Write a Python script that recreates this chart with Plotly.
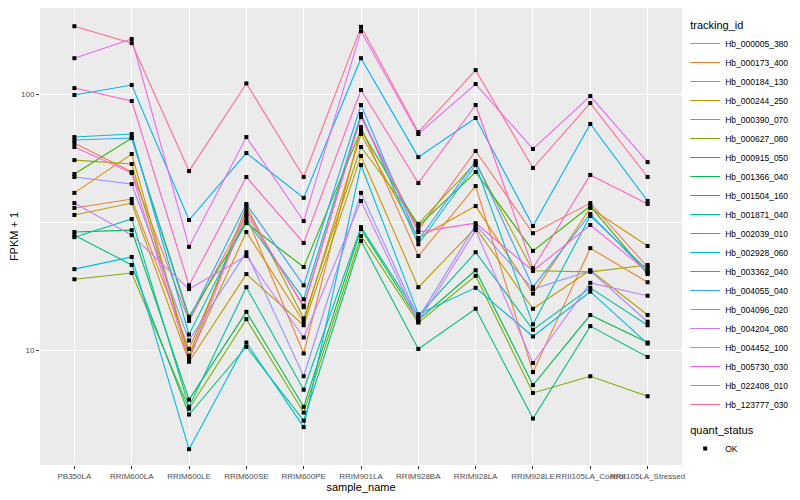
import plotly.graph_objects as go

samples = ["PB350LA", "RRIM600LA", "RRIM600LE", "RRIM600SE", "RRIM600PE", "RRIM901LA",
           "RRIM928BA", "RRIM928LA", "RRIM928LE", "RRII105LA_Control", "RRII105LA_Stressed"]

tracking_ids = ["Hb_000005_380", "Hb_000173_400", "Hb_000184_130", "Hb_000244_250", "Hb_000390_070",
                "Hb_000627_080", "Hb_000915_050", "Hb_001366_040", "Hb_001504_160", "Hb_001871_040",
                "Hb_002039_010", "Hb_002928_060", "Hb_003362_040", "Hb_004055_040", "Hb_004096_020",
                "Hb_004204_080", "Hb_004452_100", "Hb_005730_030", "Hb_022408_010", "Hb_123777_030"]

colors = ["#F8766D", "#EA8331", "#D89000", "#C09B00", "#A3A500", "#7CAE00", "#39B600", "#00BB4E",
          "#00BF7D", "#00C1A3", "#00BFC4", "#00BAE0", "#00B0F6", "#35A2FF", "#9590FF", "#C77CFF",
          "#E76BF3", "#FA62DB", "#FF62BC", "#FF6C91"]

Hb_000005_380 = [64.4, 49.6, 13.0, 34.0, 14.9, 82.0, 29.4, 59.9, 28.6, 37.5, 21.1]
Hb_000173_400 = [35.9, 38.9, 10.1, 33.4, 9.7, 74.3, 23.3, 43.7, 8.2, 25.0, 18.4]
Hb_000184_130 = [41.1, 58.3, 9.4, 28.9, 12.9, 69.8, 27.4, 36.5, 16.6, 35.9, 25.5]
Hb_000244_250 = [33.7, 37.5, 9.0, 19.8, 12.5, 57.3, 17.6, 30.0, 14.5, 20.5, 13.7]
Hb_000390_070 = [55.2, 53.3, 9.5, 36.5, 13.3, 62.1, 31.1, 53.8, 20.4, 20.2, 21.5]
Hb_000627_080 = [18.9, 20.0, 5.9, 13.2, 5.7, 27.9, 12.8, 19.5, 6.8, 7.9, 6.6]
Hb_000915_050 = [48.7, 67.3, 13.5, 31.3, 21.1, 72.3, 30.5, 49.6, 24.4, 36.5, 19.8]
Hb_001366_040 = [28.9, 29.4, 6.4, 14.1, 6.0, 29.7, 13.1, 20.5, 7.3, 13.7, 10.7]
Hb_001504_160 = [28.1, 21.5, 5.6, 10.3, 5.3, 26.7, 10.1, 14.5, 5.4, 12.4, 9.4]
Hb_001871_040 = [27.6, 32.5, 6.0, 17.6, 7.0, 30.2, 13.6, 24.1, 12.0, 17.5, 12.5]
Hb_002039_010 = [67.9, 69.8, 11.5, 32.2, 15.8, 83.5, 25.9, 52.8, 12.6, 33.4, 20.5]
Hb_002928_060 = [20.7, 23.1, 4.1, 10.7, 5.0, 52.8, 13.8, 17.5, 11.3, 16.9, 10.6]
Hb_003362_040 = [99.1, 108.4, 32.2, 58.8, 39.3, 138.0, 56.7, 80.6, 30.5, 76.4, 38.2]
Hb_004055_040 = [66.1, 67.3, 13.2, 37.2, 17.9, 90.6, 26.9, 54.7, 17.6, 34.0, 20.0]
Hb_004096_020 = [47.4, 44.5, 10.9, 24.1, 7.9, 41.1, 13.3, 30.8, 17.3, 20.4, 12.9]
Hb_004204_080 = [37.5, 28.1, 17.3, 23.3, 11.2, 38.2, 12.9, 29.4, 8.9, 18.3, 16.3]
Hb_004452_100 = [138.0, 164.0, 25.3, 67.9, 31.9, 176.0, 69.8, 109.4, 61.0, 98.2, 54.2]
Hb_005730_030 = [62.1, 49.1, 9.1, 35.2, 14.7, 81.3, 28.9, 31.3, 20.4, 30.8, 20.2]
Hb_022408_010 = [105.5, 93.9, 17.9, 47.4, 26.2, 103.7, 44.9, 90.6, 20.9, 48.3, 37.2]
Hb_123777_030 = [184.0, 158.0, 50.0, 110.0, 47.4, 183.0, 71.0, 124.0, 51.4, 92.2, 47.4]

series = [Hb_000005_380, Hb_000173_400, Hb_000184_130, Hb_000244_250, Hb_000390_070,
          Hb_000627_080, Hb_000915_050, Hb_001366_040, Hb_001504_160, Hb_001871_040,
          Hb_002039_010, Hb_002928_060, Hb_003362_040, Hb_004055_040, Hb_004096_020,
          Hb_004204_080, Hb_004452_100, Hb_005730_030, Hb_022408_010, Hb_123777_030]

quant_status = "OK"

FONT = "Liberation Sans, Arial, sans-serif"

fig = go.Figure()
for i, (name, vals, col) in enumerate(zip(tracking_ids, series, colors)):
    fig.add_trace(go.Scatter(
        x=samples, y=vals, mode="lines", name=name,
        line=dict(color=col, width=1.1),
        legendgroup="tracking_id",
        legendgrouptitle=dict(text="tracking_id", font=dict(size=11, color="black")) if i == 0 else None,
    ))

all_x = [s for vals in series for s in samples]
all_y = [v for vals in series for v in vals]
fig.add_trace(go.Scatter(
    x=all_x, y=all_y, mode="markers", name=quant_status,
    marker=dict(symbol="square", size=4, color="black"),
    legendgroup="quant_status",
    legendgrouptitle=dict(text="quant_status", font=dict(size=11, color="black")),
))

# page body has an 8px default margin, so the figure is sized to fit the 800x500 window
fig.update_layout(
    width=792, height=492,
    margin=dict(l=32, r=118, t=0, b=35),
    paper_bgcolor="white", plot_bgcolor="#EBEBEB",
    font=dict(family=FONT, size=9, color="#4D4D4D"),
    showlegend=True,
    legend=dict(x=1.005, xanchor="left", y=0.5, yanchor="middle",
                font=dict(size=8.5, color="black"), tracegroupgap=6,
                itemwidth=30, bgcolor="rgba(255,255,255,0)", maxheight=1.0),
)
fig.update_xaxes(
    categoryorder="array", categoryarray=samples,
    range=[-0.6, 10.6], tickangle=0, automargin=False,
    showgrid=True, gridcolor="white", gridwidth=1.1,
    ticks="outside", ticklen=3, tickcolor="#333333",
    tickfont=dict(size=8, color="#4D4D4D"),
    title=dict(text="sample_name", font=dict(size=11, color="black"), standoff=2),
    zeroline=False, showline=False,
)
fig.update_yaxes(
    type="log", range=[0.551, 2.336], automargin=False,
    tickmode="array", tickvals=[10, 100], ticktext=["10", "100"],
    showgrid=True, gridcolor="white", gridwidth=1.1,
    minor=dict(tickmode="array", tickvals=[3.1623, 31.623], showgrid=True,
               gridcolor="white", gridwidth=0.5, ticks=""),
    ticks="outside", ticklen=3, tickcolor="#333333",
    tickfont=dict(size=8, color="#4D4D4D"),
    title=dict(text="FPKM + 1", font=dict(size=11, color="black"), standoff=4),
    zeroline=False, showline=False,
)

fig.write_html("out.html")
